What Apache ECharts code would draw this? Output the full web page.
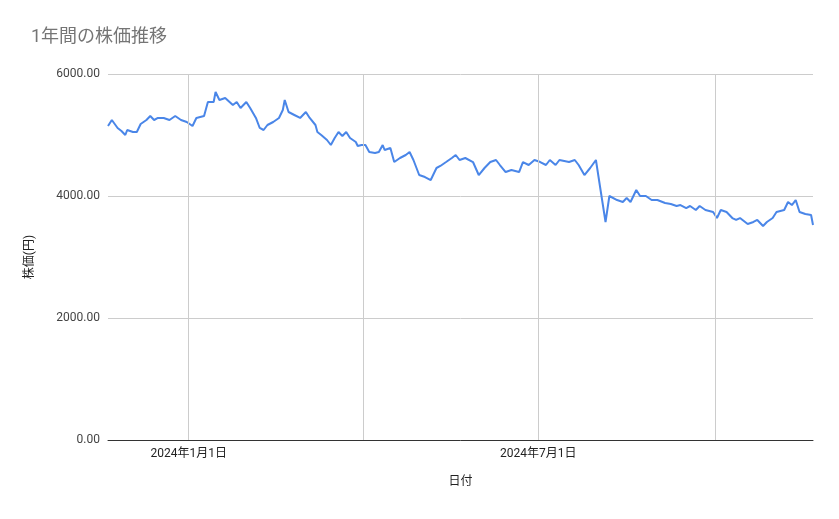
<!DOCTYPE html>
<html><head><meta charset="utf-8">
<script src="https://cdn.jsdelivr.net/npm/echarts@6/dist/echarts.min.js"></script>
<style>html,body{margin:0;padding:0;background:#fff}#c{width:839px;height:519px}</style>
</head><body><div id="c"></div>
<script>
const dates = [
'2023-11-20','2023-11-22','2023-11-25','2023-11-27','2023-11-29','2023-11-30','2023-12-03','2023-12-05','2023-12-07','2023-12-10',
'2023-12-12','2023-12-14','2023-12-16','2023-12-19','2023-12-20','2023-12-22','2023-12-25','2023-12-28','2023-12-31','2024-01-03',
'2024-01-05','2024-01-09','2024-01-11','2024-01-14','2024-01-15','2024-01-17','2024-01-20','2024-01-24','2024-01-26','2024-01-28',
'2024-01-31','2024-02-02','2024-02-05','2024-02-07','2024-02-09','2024-02-11','2024-02-14','2024-02-17','2024-02-19','2024-02-20',
'2024-02-22','2024-02-25','2024-02-28','2024-03-02','2024-03-04','2024-03-07','2024-03-08','2024-03-10','2024-03-13','2024-03-15',
'2024-03-17','2024-03-19','2024-03-21','2024-03-23','2024-03-25','2024-03-28','2024-03-29','2024-03-31','2024-04-02','2024-04-04',
'2024-04-07','2024-04-09','2024-04-11','2024-04-12','2024-04-15','2024-04-17','2024-04-20','2024-04-23','2024-04-25','2024-04-27',
'2024-04-30','2024-05-03','2024-05-06','2024-05-09','2024-05-11','2024-05-14','2024-05-17','2024-05-19','2024-05-21','2024-05-24',
'2024-05-28','2024-05-31','2024-06-03','2024-06-06','2024-06-09','2024-06-11','2024-06-14','2024-06-17','2024-06-21','2024-06-23',
'2024-06-26','2024-06-29','2024-07-02','2024-07-05','2024-07-07','2024-07-10','2024-07-12','2024-07-17','2024-07-20','2024-07-22',
'2024-07-25','2024-07-28','2024-07-31','2024-08-02','2024-08-05','2024-08-07','2024-08-11','2024-08-14','2024-08-16','2024-08-18',
'2024-08-21','2024-08-23','2024-08-26','2024-08-29','2024-09-01','2024-09-05','2024-09-08','2024-09-11','2024-09-13','2024-09-16',
'2024-09-18','2024-09-21','2024-09-23','2024-09-26','2024-09-30','2024-10-02','2024-10-04','2024-10-07','2024-10-10','2024-10-12',
'2024-10-14','2024-10-18','2024-10-21','2024-10-23','2024-10-26','2024-10-28','2024-10-31','2024-11-02','2024-11-06','2024-11-08',
'2024-11-10','2024-11-12','2024-11-14','2024-11-17','2024-11-20','2024-11-21'];
const prices = [
5148,5246,5115,5066,5000,5082,5049,5049,5180,5246,
5311,5246,5279,5279,5311,5246,5311,5246,5213,5148,
5279,5311,5541,5541,5705,5574,5607,5492,5541,5443,
5541,5443,5279,5115,5082,5164,5213,5279,5410,5574,
5377,5328,5279,5377,5279,5164,5049,5000,4918,4836,
4951,5049,4984,5049,4951,4885,4820,4836,4836,4721,
4705,4721,4836,4754,4787,4557,4623,4672,4721,4590,
4344,4311,4262,4459,4492,4557,4623,4672,4590,4623,
4557,4344,4459,4557,4590,4508,4393,4426,4393,4557,
4508,4590,4557,4508,4590,4508,4590,4557,4590,4508,
4344,4459,4590,4180,3574,4000,3934,3902,3967,3902,
4098,4000,4000,3934,3934,3885,3869,3836,3852,3803,
3836,3770,3836,3770,3738,3639,3770,3738,3639,3607,
3639,3541,3574,3607,3508,3574,3639,3738,3770,3902,
3852,3934,3738,3705,3689,3525];
const xTicks = ['2024-01-01','2024-04-01','2024-07-01','2024-10-01'];

const chart = echarts.init(document.getElementById('c'));
const font = 'Roboto, "Noto Sans CJK JP", sans-serif';
const fmtDate = v => {const d=new Date(v);return d.getFullYear()+'年'+(d.getMonth()+1)+'月'+d.getDate()+'日';};
chart.setOption({
  animation:false,
  title:{text:'1年間の株価推移',left:26,top:24,textStyle:{color:'#757575',fontSize:18,fontWeight:'normal',fontFamily:font}},
  grid:{left:108,right:26,top:74,bottom:79},
  xAxis:{type:'time',min:'2023-11-20',max:'2024-11-21',
    name:'日付',nameLocation:'middle',nameGap:36,nameTextStyle:{color:'#222',fontSize:12,fontFamily:font},
    axisLine:{lineStyle:{color:'#333'}},axisTick:{show:false},splitLine:{show:false},
    axisLabel:{color:'#222',fontSize:12,fontFamily:font,hideOverlap:false,
      formatter:v=>{const d=new Date(v);const s=d.getFullYear()+'-'+String(d.getMonth()+1).padStart(2,'0')+'-'+String(d.getDate()).padStart(2,'0');
        return xTicks.includes(s)?fmtDate(v):'';}}},
  yAxis:{type:'value',min:0,max:6000,interval:2000,
    name:'株価(円)',nameLocation:'middle',nameGap:72,nameRotate:90,nameTextStyle:{color:'#222',fontSize:12,fontFamily:font},
    axisLine:{show:false},axisTick:{show:false},
    splitLine:{lineStyle:{color:'#cccccc'}},
    axisLabel:{color:'#444',fontSize:12,fontFamily:font,formatter:v=>v.toFixed(2)}},
  series:[{type:'line',data:dates.map((d,i)=>[d,prices[i]]),showSymbol:false,
    lineStyle:{color:'#4a86e8',width:2},itemStyle:{color:'#4a86e8'},
    markLine:{silent:true,symbol:'none',label:{show:false},lineStyle:{color:'#cccccc',type:'solid',width:1},
      data:xTicks.map(d=>({xAxis:d}))}}]
});
</script></body></html>
